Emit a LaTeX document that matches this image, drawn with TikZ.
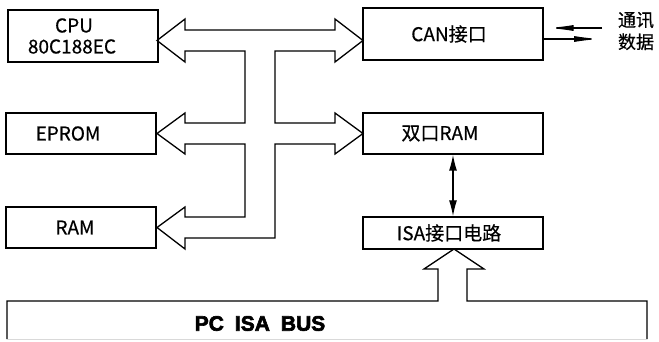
\documentclass[tikz,border=0pt]{standalone}
\usepackage{fontspec}
\setmainfont[FakeBold=0.5]{Noto Sans CJK SC}
\newfontfamily\busfont[BoldFeatures={FakeBold=3}]{Liberation Sans}
\usepackage{tikz}
\usetikzlibrary{shapes,arrows.meta}
\newcommand{\lpad}[1]{\hspace*{#1pt}}
\tikzset{%
  block/.style   = {draw, line width=1.3pt, rectangle, minimum height=41pt,
    minimum width=150pt, align=center, inner sep=0pt,
    font=\fontsize{19}{21}\selectfont},
  wide/.style    = {block, minimum width=180pt}, % right column
  label/.style   = {align=center, inner sep=0pt, font=\fontsize{18}{22}\selectfont},
  hollow/.style  = {line width=1.3pt, line join=miter}, % bus outline
  bushead/.style = {-{Latex[length=26pt, width=6pt]}, line width=1.3pt}
}
\begin{document}
\begin{tikzpicture}[auto, x=1pt, y=-1pt, >=Latex]
\useasboundingbox (0,0) rectangle (659,342);
\draw
	node at(83,36)[block, name=CPU, minimum height=52pt]{CPU\lpad{18}\\80C188EC\lpad{22}}
	node at(81,133.5)[block, name=EPROM]{EPROM\lpad{26}}
	node at(81,227.5)[block, name=RAM]{RAM\lpad{12}};
\draw
	node at(453,34)[wide, name=CAN, minimum height=52pt]{CAN接口\lpad{8}}
	node at(453,133.5)[wide, name=DPRAM]{双口RAM\lpad{26}}
	node at(453,233)[wide, name=ISA, minimum height=32pt]{ISA接口电路\lpad{8}};
\node[label, name=Comm] at(636,31){通讯\\数据};
\node[inner sep=0pt, name=Bus] at(260,323.5){\busfont\bfseries\fontsize{21}{22}\selectfont PC\hspace{11pt}ISA\hspace{11pt}BUS};
% internal bus
\draw[hollow] (185,30) -- (335,30) -- (335,19) -- (363,40.5) -- (335,62) -- (335,51)
	-- (275,51) -- (275,123) -- (335,123) -- (335,113) -- (363,133.5) -- (335,154)
	-- (335,144) -- (275,144) -- (275,238) -- (185,238) -- (185,249) -- (157,227.5)
	-- (185,207) -- (185,217) -- (245,217) -- (245,144) -- (185,144) -- (185,154)
	-- (157,133.5) -- (185,113) -- (185,123) -- (245,123) -- (245,51) -- (185,51)
	-- (185,62) -- (157,40.5) -- (185,19) -- cycle;
% PC bus
\draw[hollow] (7,339) -- (7,301) -- (438,301) -- (438,269) -- (424,269) -- (454,249)
	-- (484,269) -- (467,269) -- (467,301) -- (647,301) -- (647,339);
\draw[gray!30, line width=0.8pt] (7,339) -- (647,339);
\draw[{Latex[length=16pt, width=8pt]}-{Latex[length=16pt, width=8pt]}, line width=1.3pt]
	(DPRAM.south) -- (ISA.north);
\coordinate (CommIn) at (602,28);
\coordinate (CommOut) at (600,39);
\draw[bushead, shorten >=4pt] (CommIn) -- ([yshift=6pt]CAN.east);
\draw[bushead] ([yshift=-5pt]CAN.east) -- (CommOut);
\end{tikzpicture}
\end{document}
